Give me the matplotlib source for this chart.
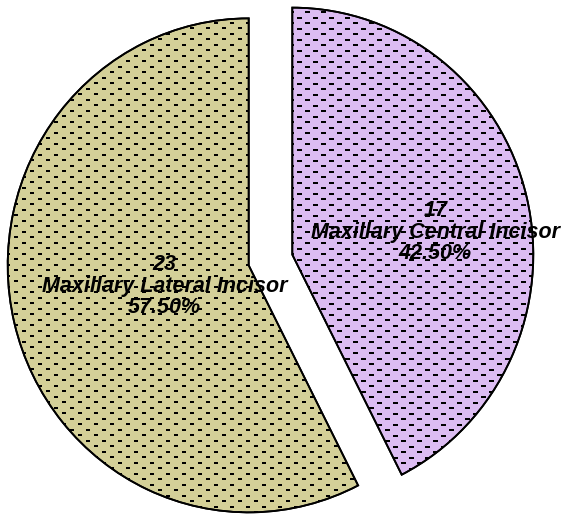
import numpy as np
import matplotlib.pyplot as plt
from matplotlib.patches import Wedge

counts = [17, 23]
names = ["Maxillary Central Incisor", "Maxillary Lateral Incisor"]
colors = ["#dcbcf2", "#d4d098"]
explode = [0.093, 0.093]
label_dist = [0.60, 0.36]
label_shift = [-4.8, 0.0]   # degrees off the bisector

plt.rcParams["font.family"] = ["Liberation Sans", "DejaVu Sans"]

fig = plt.figure(figsize=(5.63, 5.16), dpi=100)
ax = fig.add_axes([0, 0, 1, 1])
# pixel sizes in data units (the original pie is slightly taller than wide)
pxx = 1 / 241.0
pxy = 1 / 247.0

wedges, _ = ax.pie(counts, colors=colors, explode=explode, startangle=90,
                   counterclock=False, radius=1.0,
                   wedgeprops=dict(edgecolor="black", linewidth=1.3))
ax.set_aspect("auto")
ax.set_xlim(-270.5 * pxx, 292.5 * pxx)
ax.set_ylim(-256 * pxy, 260 * pxy)
ax.axis("off")

total = sum(counts)
for i, w in enumerate(wedges):
    # dashed fill pattern clipped to the wedge
    cx, cy = w.center
    xs = np.arange(-1.2, 1.2, 16 * pxx)
    ys = np.arange(-1.2, 1.2, 5.5 * pxy)
    gx, gy = [], []
    for k, y in enumerate(ys):
        off = (k % 2) * 8 * pxx
        gx.extend(xs + off + cx)
        gy.extend([y + cy] * len(xs))
    size = 3.6 if i == 0 else 2.8
    pts = ax.plot(gx, gy, linestyle="none", marker="_", color="black",
                  markersize=size, markeredgewidth=1.4, zorder=3)[0]
    pts.set_clip_path(w)
    ax.add_patch(Wedge((cx, cy), w.r, w.theta1, w.theta2,
                       fill=False, edgecolor="black", linewidth=1.3, zorder=4))

    ang = np.deg2rad((w.theta1 + w.theta2) / 2 + label_shift[i])
    tx = cx + label_dist[i] * np.cos(ang)
    ty = cy + label_dist[i] * np.sin(ang)
    txt = f"{counts[i]}\n{names[i]}\n{counts[i] / total * 100:.2f}%"
    ax.text(tx, ty, txt, ha="center", va="center", fontsize=15.5,
            fontweight="bold", fontstyle="italic", linespacing=1.02, zorder=5)

fig.savefig("out.png", dpi=100)
